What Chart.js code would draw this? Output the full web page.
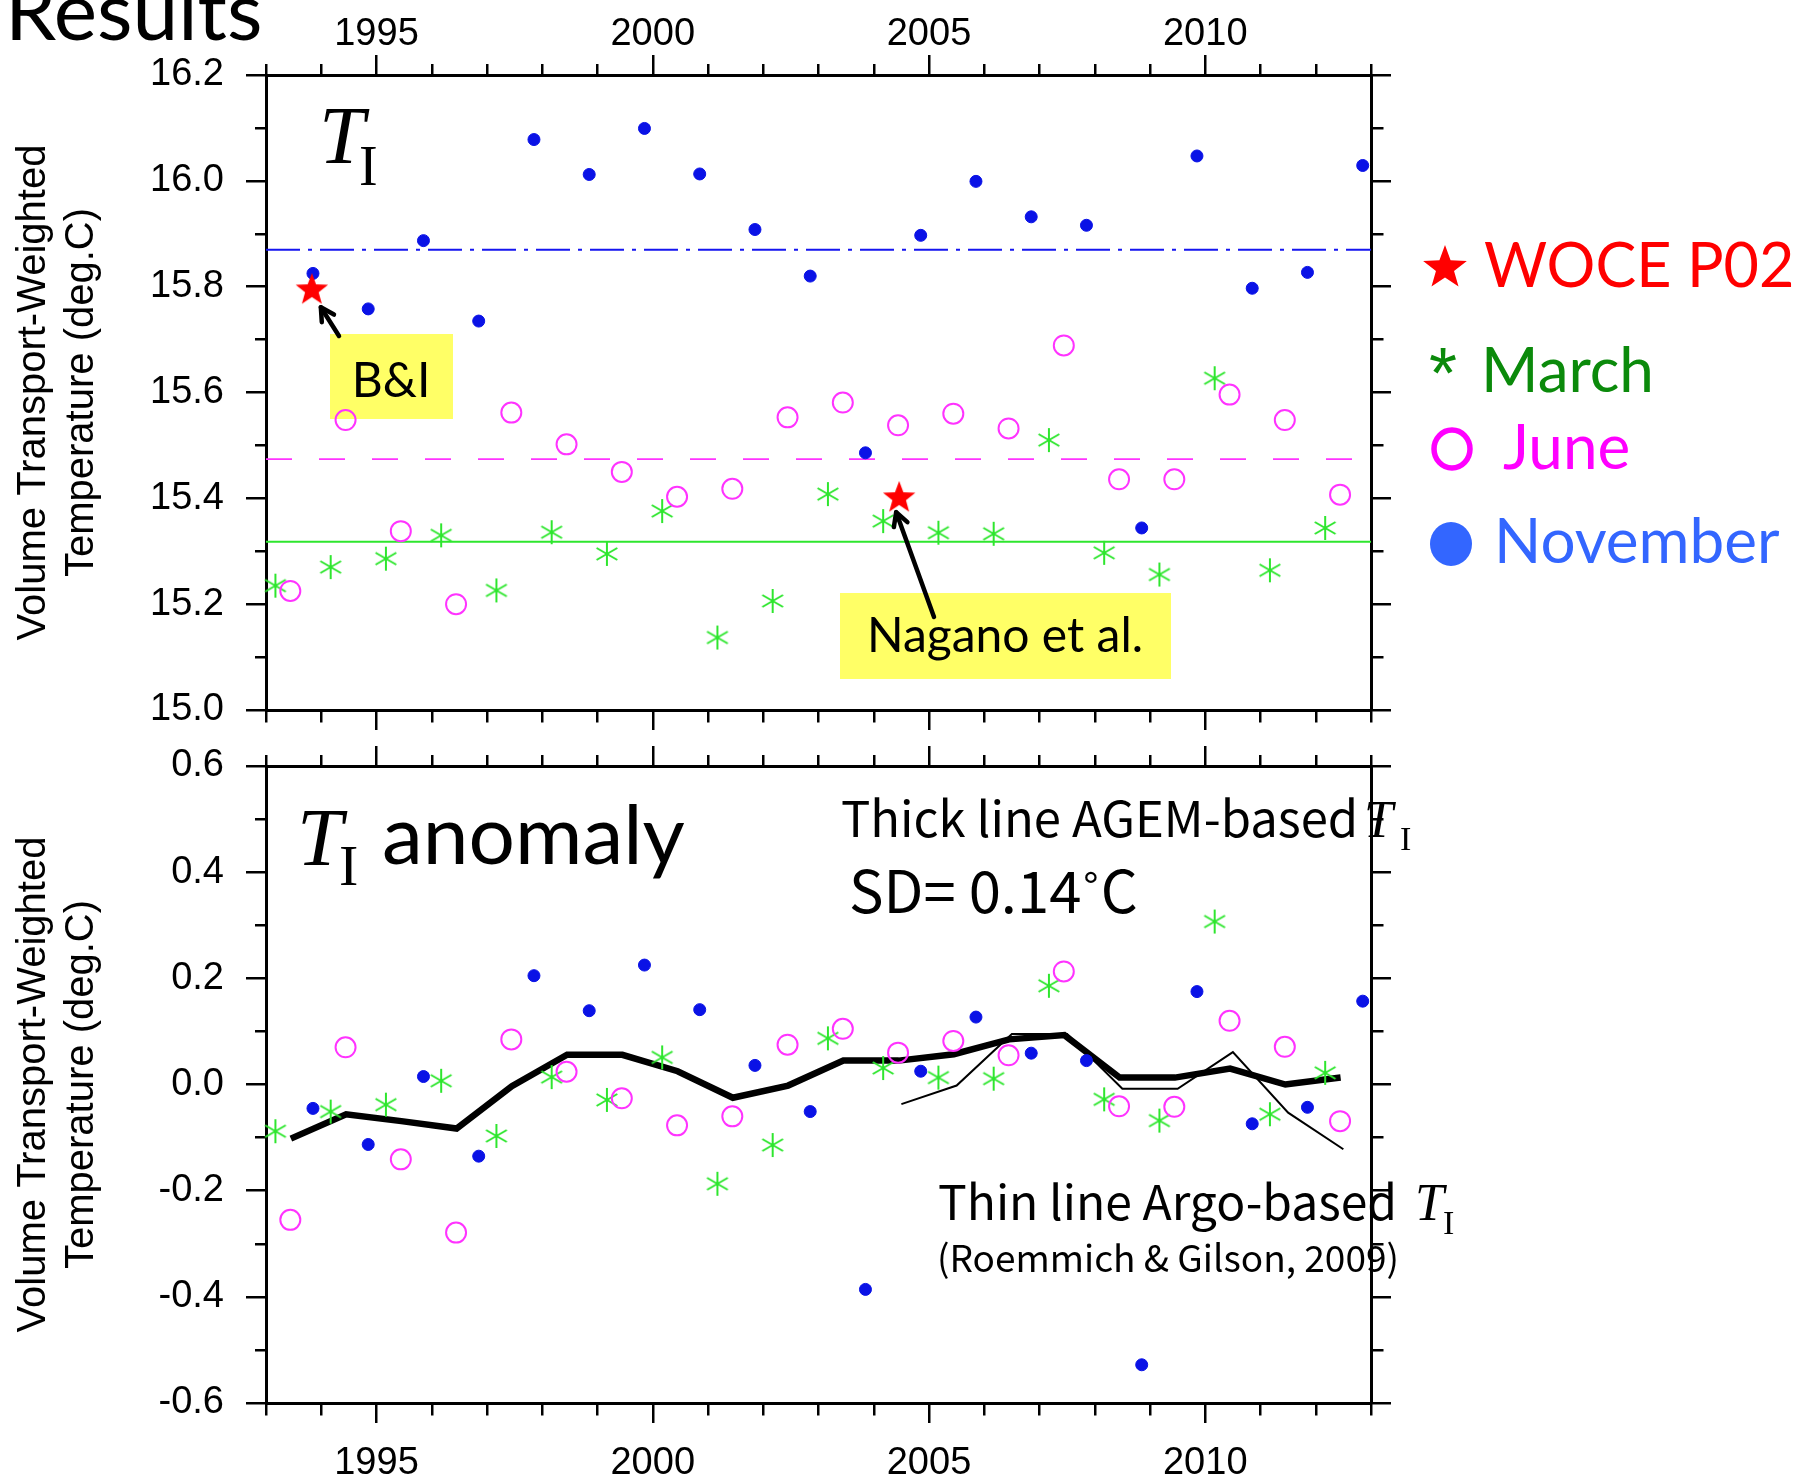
<!DOCTYPE html>
<html>
<head>
<meta charset="utf-8">
<title>Volume transport-weighted temperature T_I</title>
<script src="https://cdn.jsdelivr.net/npm/chart.js@4.4.1/dist/chart.umd.min.js"></script>
<style>
  html, body { margin: 0; padding: 0; background: #fff; }
  #wrap { position: relative; width: 1798px; height: 1484px; }
  canvas { position: absolute; left: 0; }
  #topChart { top: 0; }
  #botChart { top: 738px; }
</style>
</head>
<body>
<div id="wrap">
  <canvas id="topChart" width="1798" height="738"></canvas>
  <canvas id="botChart" width="1798" height="746"></canvas>
</div>
<script>
// cruise years and the time of year of each cruise (fraction of year)
const years = [1993, 1994, 1995, 1996, 1997, 1998, 1999, 2000, 2001, 2002,
               2003, 2004, 2005, 2006, 2007, 2008, 2009, 2010, 2011, 2012];
const marchPos = 0.17, junePos = 0.44, novPos = 0.85, annualPos = 0.45, argoPos = 0.5;

// T_I (deg.C), upper panel
const marchT = [15.235, 15.270, 15.286, 15.330, 15.226, 15.336, 15.295, 15.376, 15.137, 15.206,
                15.408, 15.357, 15.335, 15.333, 15.510, 15.297, 15.256, 15.627, 15.264, 15.344];
const juneT  = [15.225, 15.548, 15.338, 15.200, 15.562, 15.502, 15.450, 15.403, 15.418, 15.553,
                15.581, 15.538, 15.560, 15.532, 15.689, 15.436, 15.436, 15.596, 15.548, 15.407];
const novT   = [15.825, 15.758, 15.887, 15.735, 16.078, 16.012, 16.099, 16.013, 15.908, 15.820,
                15.486, 15.897, 15.999, 15.932, 15.916, 15.344, 16.047, 15.797, 15.827, 16.029];
const marchMean = 15.318, juneMean = 15.474, novMean = 15.870;

// WOCE P02 sections
const woceX = [1993.83, 2004.46];
const woceT = [15.797, 15.404];

// T_I anomaly (deg.C), lower panel
const marchA = [-0.088, -0.051, -0.038, 0.007, -0.097, 0.014, -0.029, 0.051, -0.187, -0.114,
                0.087, 0.031, 0.013, 0.011, 0.186, -0.028, -0.068, 0.307, -0.056, 0.022];
const juneA  = [-0.255, 0.070, -0.141, -0.279, 0.085, 0.024, -0.026, -0.077, -0.060, 0.075,
                0.105, 0.060, 0.082, 0.055, 0.213, -0.041, -0.042, 0.120, 0.071, -0.069];
const novA   = [-0.045, -0.113, 0.015, -0.135, 0.205, 0.139, 0.225, 0.141, 0.036, -0.051,
                -0.386, 0.025, 0.127, 0.059, 0.045, -0.528, 0.175, -0.074, -0.043, 0.157];
// thick line: AGEM-based annual T_I
const agemA  = [-0.102, -0.056, -0.069, -0.083, -0.003, 0.056, 0.056, 0.025, -0.025, -0.002,
                0.045, 0.045, 0.057, 0.085, 0.093, 0.013, 0.013, 0.030, 0.000, 0.013];
// thin line: Argo-based T_I
const argoYears = [2004, 2005, 2006, 2007, 2008, 2009, 2010, 2011, 2012];
const argoA = [-0.037, -0.002, 0.095, 0.095, -0.008, -0.008, 0.061, -0.053, -0.122];

// axes
const xMin = 1993, xMax = 2013;
const xLabels = [1995, 2000, 2005, 2010];
const topYLabels = [15.0, 15.2, 15.4, 15.6, 15.8, 16.0, 16.2];
const botYLabels = [-0.6, -0.4, -0.2, 0.0, 0.2, 0.4, 0.6];
const yTitle = ['Volume Transport-Weighted', 'Temperature (deg.C)'];

const blue = '#0a12e6', magenta = '#ff33ff', lime = '#2ee62e';
const tickFont = { family: '"Liberation Sans", Arial, sans-serif', size: 38 };

Chart.defaults.font.family = '"Liberation Sans", Arial, sans-serif';

function pts(xs, ys) { return xs.map((x, i) => ({ x: x, y: ys[i] })); }
function shift(list, d) { return list.map(v => v + d); }

function asterisk(r, color, w) {
  const c = document.createElement('canvas');
  const s = Math.ceil(2 * r + 4);
  c.width = c.height = s;
  const g = c.getContext('2d');
  g.strokeStyle = color; g.lineWidth = w;
  g.translate(s / 2, s / 2);
  [90, 30, -30].forEach(a => {
    const t = a * Math.PI / 180;
    g.beginPath();
    g.moveTo(-r * Math.cos(t), r * Math.sin(t));
    g.lineTo(r * Math.cos(t), -r * Math.sin(t));
    g.stroke();
  });
  return c;
}

function starPath(g, cx, cy, R, r) {
  g.beginPath();
  for (let i = 0; i < 10; i++) {
    const rad = i % 2 ? r : R;
    const a = -Math.PI / 2 + i * Math.PI / 5;
    g.lineTo(cx + rad * Math.cos(a), cy + rad * Math.sin(a));
  }
  g.closePath();
}

function star(R, color) {
  const c = document.createElement('canvas');
  const s = Math.ceil(2 * R + 2);
  c.width = c.height = s;
  const g = c.getContext('2d');
  g.fillStyle = color;
  starPath(g, s / 2, s / 2 + R * 0.1, R, R * 0.42);
  g.fill();
  return c;
}

function isLabel(list, v) { return list.some(l => Math.abs(l - v) < 1e-6); }

function xAxis(pos, showLabels, height, pad) {
  return {
    type: 'linear', position: pos, min: xMin, max: xMax,
    ticks: {
      display: showLabels, stepSize: 1, autoSkip: false, maxRotation: 0, minRotation: 0,
      padding: pad, color: '#000', font: tickFont,
      callback: v => (isLabel(xLabels, v) ? String(v) : '')
    },
    grid: {
      drawOnChartArea: false, drawTicks: true, tickLength: 20,
      lineWidth: 2.5, tickWidth: 2.5, color: '#000', tickColor: '#000',
      tickBorderDash: c => (c.tick && isLabel(xLabels, c.tick.value)) ? [] :
        (pos === 'top' ? [0, 9, 20, 0] : [10.5, 20])
    },
    border: { display: true, color: '#000', width: 3 },
    afterFit: s => { s.height = height; s.paddingLeft = 0; s.paddingRight = 0; }
  };
}

function yAxis(pos, min, max, labels, width) {
  const left = pos === 'left';
  return {
    type: 'linear', position: pos, min: min, max: max,
    ticks: {
      display: left, stepSize: 0.1, padding: 22, color: '#000', font: tickFont,
      callback: v => {
        const hit = labels.find(l => Math.abs(l - v) < 1e-6);
        return hit === undefined ? '' : hit.toFixed(1);
      }
    },
    grid: {
      drawOnChartArea: false, drawTicks: true, tickLength: 20,
      lineWidth: 2.5, tickWidth: 2.5, color: '#000', tickColor: '#000',
      tickBorderDash: c => (c.tick && isLabel(labels, c.tick.value)) ? [] :
        (left ? [0, 9, 20, 0] : [10.5, 20])
    },
    border: { display: true, color: '#000', width: 3 },
    title: {
      display: left, text: yTitle, color: '#000',
      font: { family: '"Liberation Sans", Arial, sans-serif', size: 40 },
      padding: { top: 10, bottom: 0 }
    },
    // fixed width, and no extra room for the end labels
    afterFit: s => { s.width = width; s.paddingTop = 0; s.paddingBottom = 0; }
  };
}

function text(g, s, x, y, font, color, align) {
  g.font = font;
  g.fillStyle = color || '#000';
  g.textAlign = align || 'left';
  g.textBaseline = 'alphabetic';
  g.fillText(s, x, y);
}

function arrow(g, x1, y1, x2, y2, w, head) {
  const a = Math.atan2(y2 - y1, x2 - x1);
  g.save();
  g.strokeStyle = '#000'; g.lineWidth = w; g.lineCap = 'round'; g.lineJoin = 'round';
  g.beginPath(); g.moveTo(x1, y1); g.lineTo(x2, y2); g.stroke();
  g.beginPath();
  g.moveTo(x2 - head * Math.cos(a - 0.5), y2 - head * Math.sin(a - 0.5));
  g.lineTo(x2, y2);
  g.lineTo(x2 - head * Math.cos(a + 0.5), y2 - head * Math.sin(a + 0.5));
  g.stroke();
  g.restore();
}

const asteriskImg = asterisk(12, lime, 2);
const starImg = star(17, '#ff0000');

function markerSets(marchY, juneY, novY) {
  return [
    { label: 'November', data: pts(shift(years, novPos), novY), pointStyle: 'circle', pointRadius: 6,
      backgroundColor: blue, borderColor: blue, borderWidth: 1, order: 1, clip: false },
    { label: 'June', data: pts(shift(years, junePos), juneY), pointStyle: 'circle', pointRadius: 10,
      backgroundColor: 'rgba(0,0,0,0)', borderColor: magenta, borderWidth: 2, order: 2, clip: false },
    { label: 'March', data: pts(shift(years, marchPos), marchY), pointStyle: asteriskImg, pointRadius: 12,
      order: 3, clip: false }
  ];
}

function meanLine(v, color, dash, width) {
  return { data: [{ x: xMin, y: v }, { x: xMax, y: v }], showLine: true, pointRadius: 0,
           borderColor: color, borderWidth: width, borderDash: dash, order: 6 };
}

// ---------- upper panel ----------
const topDecor = {
  id: 'topDecor',
  beforeDatasetsDraw(chart) {
    const g = chart.ctx;
    g.save();
    g.fillStyle = '#ffff66';
    g.fillRect(330, 334, 123, 85);
    g.fillRect(840, 593, 331, 86);
    g.restore();
  },
  afterDraw(chart) {
    const g = chart.ctx, sx = chart.scales.x, sy = chart.scales.y;
    g.save();
    text(g, 'Results', 5, 40, '82px Lato');
    text(g, 'T', 319, 163, 'italic 82px "Liberation Serif"');
    text(g, 'I', 359, 185, '56px "Liberation Serif"');
    text(g, 'B&I', 391, 397, '48px Lato', '#000', 'center');
    text(g, 'Nagano et al.', 1005, 652, '48px Lato', '#000', 'center');

    const p1x = sx.getPixelForValue(woceX[0]), p1y = sy.getPixelForValue(woceT[0]);
    arrow(g, 339, 336, p1x + 9, p1y + 19, 4.5, 15);
    const p2x = sx.getPixelForValue(woceX[1]), p2y = sy.getPixelForValue(woceT[1]);
    arrow(g, 934, 617, p2x - 3, p2y + 16, 4.5, 15);

    // legend
    g.fillStyle = '#ff0000';
    starPath(g, 1445, 268, 23, 9.5); g.fill();
    text(g, 'WOCE P02', 1484, 287, '61px Lato', '#ff0000');
    text(g, '*', 1429, 398, '72px "Liberation Sans"', '#0b8a0b');
    text(g, 'March', 1481, 392, '62px Lato', '#0b8a0b');
    g.strokeStyle = '#ff00ff'; g.lineWidth = 5.5;
    g.beginPath(); g.ellipse(1452, 449, 18, 19, 0, 0, 2 * Math.PI); g.stroke();
    text(g, 'June', 1503, 469, '62px Lato', '#ff00ff');
    g.fillStyle = '#3366ff';
    g.beginPath(); g.ellipse(1451, 544, 21, 22, 0, 0, 2 * Math.PI); g.fill();
    text(g, 'November', 1494, 563, '62px Lato', '#3366ff');
    g.restore();
  }
};

new Chart(document.getElementById('topChart'), {
  type: 'scatter',
  data: {
    datasets: [
      { label: 'WOCE P02', data: pts(woceX, woceT), pointStyle: starImg, pointRadius: 17, order: 0, clip: false },
      ...markerSets(marchT, juneT, novT),
      meanLine(novMean, '#1515f0', [34, 8, 4, 8], 2),
      meanLine(juneMean, magenta, [26, 27], 1.8),
      meanLine(marchMean, lime, [], 2)
    ]
  },
  options: {
    responsive: false, devicePixelRatio: 1, animation: false, events: [],
    layout: { padding: 0 },
    plugins: { legend: { display: false }, tooltip: { enabled: false } },
    scales: {
      x: xAxis('top', true, 75, -2),
      x2: xAxis('bottom', false, 28, 0),
      y: yAxis('left', 15.0, 16.2, topYLabels, 266),
      y2: yAxis('right', 15.0, 16.2, topYLabels, 427)
    }
  },
  plugins: [topDecor]
});

// ---------- lower panel ----------
const botDecor = {
  id: 'botDecor',
  afterDraw(chart) {
    const g = chart.ctx;
    g.save();
    text(g, 'T', 297, 127, 'italic 82px "Liberation Serif"');
    text(g, 'I', 339, 147, '58px "Liberation Serif"');
    text(g, 'anomaly', 382, 126, '82px Lato');
    text(g, 'Thick line AGEM-based', 841, 99, '49px "Noto Sans CJK JP"');
    text(g, 'T', 1364, 99, 'italic 52px "Liberation Serif"');
    text(g, 'I', 1400, 112, '34px "Liberation Serif"');
    text(g, 'SD= 0.14˚C', 849, 175, '58px "Noto Sans CJK JP"');
    text(g, 'Thin line Argo-based', 938, 482, '48px "Noto Sans CJK JP"');
    text(g, 'T', 1415, 482, 'italic 52px "Liberation Serif"');
    text(g, 'I', 1443, 496, '34px "Liberation Serif"');
    text(g, '(Roemmich & Gilson, 2009)', 937, 534, '37px "Noto Sans CJK JP"');
    g.restore();
  }
};

new Chart(document.getElementById('botChart'), {
  type: 'scatter',
  data: {
    datasets: [
      ...markerSets(marchA, juneA, novA),
      { label: 'Argo', data: pts(shift(argoYears, argoPos), argoA), showLine: true, pointRadius: 0,
        borderColor: '#000', borderWidth: 2, order: 4 },
      { label: 'AGEM', data: pts(shift(years, annualPos), agemA), showLine: true, pointRadius: 0,
        borderColor: '#000', borderWidth: 6.5, order: 5 }
    ]
  },
  options: {
    responsive: false, devicePixelRatio: 1, animation: false, events: [],
    layout: { padding: 0 },
    plugins: { legend: { display: false }, tooltip: { enabled: false } },
    scales: {
      x: xAxis('bottom', true, 81, 18),
      x2: xAxis('top', false, 28, 0),
      y: yAxis('left', -0.6, 0.6, botYLabels, 266),
      y2: yAxis('right', -0.6, 0.6, botYLabels, 427)
    }
  },
  plugins: [botDecor]
});
</script>
</body>
</html>
